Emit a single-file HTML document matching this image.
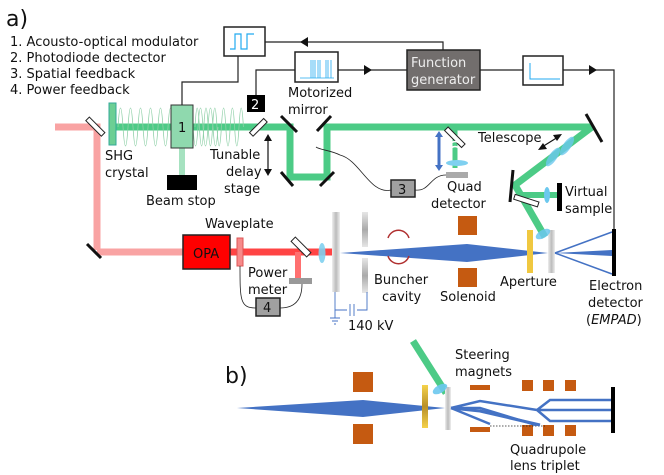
<!DOCTYPE html>
<html><head><meta charset="utf-8"><style>
html,body{margin:0;padding:0;background:#fff}
svg{display:block}
text{font-family:"DejaVu Sans","Liberation Sans",sans-serif;fill:#111}
</style></head><body>
<svg width="664" height="475" viewBox="0 0 664 475" xmlns="http://www.w3.org/2000/svg">
<defs>
<linearGradient id="gp" x1="0" x2="1"><stop offset="0" stop-color="#eee"/><stop offset="0.5" stop-color="#bbb"/><stop offset="1" stop-color="#eee"/></linearGradient>
<linearGradient id="gv" x1="0" y1="0" x2="0" y2="1"><stop offset="0" stop-color="#e6e6e6"/><stop offset="0.5" stop-color="#aaa"/><stop offset="1" stop-color="#e6e6e6"/></linearGradient>
<linearGradient id="gy" x1="0" y1="0" x2="0" y2="1"><stop offset="0" stop-color="#f5d24a"/><stop offset="0.5" stop-color="#b8902a"/><stop offset="1" stop-color="#f5d24a"/></linearGradient>
</defs>
<g font-size="13">
<text x="6" y="26" font-size="22">a)</text>
<text x="10" y="46">1. Acousto-optical modulator</text>
<text x="10" y="62">2. Photodiode dectector</text>
<text x="10" y="78">3. Spatial feedback</text>
<text x="10" y="94">4. Power feedback</text>

<!-- red beam -->
<path d="M55 127 H97 V250" stroke="#f9a3a3" stroke-width="7" fill="none"/>
<line x1="97" y1="252" x2="183" y2="252" stroke="#f9a3a3" stroke-width="7"/>
<line x1="87" y1="244" x2="101" y2="258" stroke="#111" stroke-width="3"/>
<line x1="230" y1="252" x2="333" y2="252" stroke="#ff4444" stroke-width="7"/>
<line x1="298" y1="252" x2="298" y2="280" stroke="#ff7070" stroke-width="6"/>
<rect x="183" y="235" width="47" height="34" fill="#f00" stroke="#222" stroke-width="1.5"/>
<text x="193" y="258">OPA</text>
<rect x="237" y="238" width="6" height="28" fill="#f78a8a" stroke="#d55" stroke-width="1"/>
<rect x="290" y="244" width="22" height="6" fill="#fff" stroke="#222" transform="rotate(45 301 247)"/>
<rect x="289" y="278" width="23" height="6" fill="#999"/>
<ellipse cx="322" cy="253" rx="3.5" ry="10" fill="#7fd0f0" opacity="0.9"/>

<!-- green beam -->
<path d="M116 127 H290 V177 H327 V127 H592" stroke="#4ccb86" stroke-width="7" fill="none"/>
<line x1="182" y1="148" x2="182" y2="175" stroke="#a6e2c0" stroke-width="6"/>
<path d="M592 127 L515 185 L545 237" stroke="#4ccb86" stroke-width="7" fill="none"/>
<line x1="516" y1="195" x2="558" y2="195" stroke="#4ccb86" stroke-width="6"/>
<line x1="455" y1="130" x2="455" y2="168" stroke="#4ccb86" stroke-width="5"/>
<!-- wavy -->
<path d="M118 127 q2.5 -38 5 0 t5 0 t5 0 t5 0 t5 0 t5 0 t5 0 t5 0 t5 0 t5 0 t5 0 t5 0 t5 0 t5 0 t5 0 t5 0 t5 0 t5 0 t5 0 t5 0" stroke="#8fd0a8" stroke-width="0.8" fill="none"/>
<path d="M195 127 q2.2 -38 4.4 0 t4.4 0 t4.4 0 t4.4 0 t4.4 0 t4.4 0 t4.4 0 t4.4 0 t4.4 0 t4.4 0 t4.4 0" stroke="#8fd0a8" stroke-width="0.8" fill="none"/>
<rect x="93" y="116" width="5" height="22" fill="#fff" stroke="#222" transform="rotate(-45 95 127)"/>
<rect x="109" y="103" width="7" height="42" fill="#6ccf94" stroke="#3a9" stroke-width="1"/>
<rect x="171" y="105" width="22" height="43" fill="#8fd9ae" stroke="#333" stroke-width="1"/>
<text x="178" y="132">1</text>
<rect x="167" y="175" width="30" height="15" fill="#000"/>
<text x="146" y="205">Beam stop</text>
<text x="105" y="160">SHG</text>
<text x="105" y="177">crystal</text>
<rect x="247" y="95" width="18" height="17" fill="#000"/>
<text x="251" y="109" style="fill:#fff">2</text>
<rect x="256" y="117" width="5" height="20" fill="#fff" stroke="#222" transform="rotate(45 258 127)"/>
<text x="210" y="159">Tunable</text>
<text x="226" y="176">delay</text>
<text x="224" y="193">stage</text>
<path d="M268 138 V172" stroke="#111" stroke-width="1.2"/>
<path d="M268 134 l-4 7 h8z M268 176 l-4 -7 h8z" fill="#111"/>
<g stroke="#111" stroke-width="3">
<line x1="281" y1="116" x2="297" y2="132"/>
<line x1="281" y1="172" x2="293" y2="186"/>
<line x1="317" y1="131" x2="331" y2="116"/>
<line x1="320" y1="186" x2="334" y2="172"/>
<line x1="586" y1="114" x2="602" y2="142"/>
<line x1="513" y1="170" x2="510" y2="202"/>
</g>
<!-- top boxes -->
<rect x="224" y="27" width="41" height="29" fill="#fff" stroke="#222" stroke-width="1.5"/>
<path d="M230 49 h5 v-15 h6 v15 h6 v-15 h7" stroke="#22aaf0" stroke-width="1.2" fill="none"/>
<path d="M238 56 V82 H182 V105" stroke="#222" stroke-width="1.2" fill="none"/>
<path d="M265 42 H443 V50" stroke="#222" stroke-width="1.2" fill="none"/>
<path d="M300 42 l8 -5 v10z" fill="#111"/>
<rect x="295" y="52" width="43" height="30" fill="#fff" stroke="#222" stroke-width="1.5"/>
<path d="M300 78 H334 M311 60 V78 M313 60 V78 M315 60 V78 M318 60 V78 M320 60 V78 M326 60 V78 M328 60 V78 M331 60 V78" stroke="#22aaf0" stroke-width="0.8"/>
<path d="M295 70 H256 V95" stroke="#222" stroke-width="1.2" fill="none"/>
<line x1="338" y1="70" x2="407" y2="70" stroke="#222" stroke-width="1.2"/>
<path d="M372 70 l-8 -5 v10z" fill="#111"/>
<text x="288" y="97">Motorized</text>
<text x="288" y="114">mirror</text>
<rect x="407" y="50" width="73" height="40" fill="#726e6d" stroke="#222" stroke-width="1.5"/>
<text x="411" y="67" style="fill:#eee">Function</text>
<text x="411" y="84" style="fill:#eee">generator</text>
<line x1="480" y1="70" x2="523" y2="70" stroke="#222" stroke-width="1.2"/>
<rect x="523" y="56" width="40" height="29" fill="#fff" stroke="#222" stroke-width="1.5"/>
<path d="M530 63 V79 H560" stroke="#22aaf0" stroke-width="1" fill="none"/>
<path d="M563 70 H614 V232" stroke="#222" stroke-width="1.2" fill="none"/>
<path d="M597 70 l-8 -5 v10z" fill="#111"/>
<!-- quad detector -->
<rect x="446" y="120" width="5" height="24" fill="#fff" stroke="#222" transform="rotate(-45 458 127)"/>
<ellipse cx="457" cy="163" rx="11" ry="3" fill="#7fd0f0"/>
<rect x="446" y="172" width="22" height="6" fill="#aaa"/>
<path d="M451 143 q4 -3 8 0 M451 148 q4 -3 8 0" stroke="#fff" stroke-width="1.5" fill="none"/>
<line x1="439" y1="136" x2="439" y2="166" stroke="#4472c4" stroke-width="3"/>
<path d="M439 131 l-4 6 h8z M439 171 l-4 -6 h8z" fill="#4472c4"/>
<text x="447" y="191">Quad</text>
<text x="431" y="208">detector</text>
<rect x="391" y="180" width="24" height="17" fill="#a0a0a0" stroke="#222" stroke-width="1.5"/>
<text x="398" y="194">3</text>
<path d="M391 190 C370 195 360 160 340 155 C330 150 320 150 316 147" stroke="#222" stroke-width="0.8" fill="none"/>
<path d="M415 190 C430 192 430 175 446 175" stroke="#222" stroke-width="0.8" fill="none"/>
<text x="478" y="142">Telescope</text>
<ellipse cx="553" cy="157" rx="4" ry="11" fill="#6cc8ee" opacity="0.8" transform="rotate(35 553 157)"/>
<ellipse cx="567" cy="146" rx="4" ry="11" fill="#6cc8ee" opacity="0.8" transform="rotate(35 567 146)"/>
<line x1="542" y1="147" x2="558" y2="137" stroke="#111" stroke-width="1.2"/>
<path d="M538 150 l9 -1 l-4 -6z M562 134 l-9 1 l4 6z" fill="#111"/>
<ellipse cx="547" cy="195" rx="3" ry="8" fill="#6cc8ee"/>
<rect x="557" y="183" width="5" height="28" fill="#000"/>
<text x="565" y="196">Virtual</text>
<text x="565" y="213">sample</text>
<rect x="514" y="198" width="25" height="5" fill="#fff" stroke="#222" transform="rotate(18 526 200)"/>

<!-- electron gun -->
<rect x="332" y="212" width="8" height="80" fill="url(#gp)"/>
<rect x="362" y="212" width="6" height="35" fill="url(#gv)"/>
<rect x="362" y="258" width="6" height="35" fill="url(#gv)"/>
<path d="M335 292 V310 H347 M350 304 V316 M354 304 V316 M357 310 H367 V292" stroke="#4472c4" stroke-width="0.9" fill="none"/>
<path d="M335 310 V318 M330 318 H340 M332 321 H338 M334 324 H336" stroke="#4472c4" stroke-width="0.9" fill="none"/>
<text x="348" y="330">140 kV</text>
<path d="M340 253 L467 244 L548 253 L467 262 Z" fill="#4472c4"/>
<path d="M388 238 A11 11 0 0 1 409 238 M388 256 A11 11 0 0 0 409 256" stroke="#b03030" stroke-width="1.5" fill="none"/>
<rect x="458" y="216" width="19" height="19" fill="#c55a11"/>
<rect x="458" y="268" width="19" height="19" fill="#c55a11"/>
<rect x="527" y="230" width="6" height="43" fill="#f0c840"/>
<rect x="548" y="230" width="7" height="43" fill="url(#gp)"/>
<ellipse cx="543" cy="234" rx="4" ry="8" fill="#6cc8ee" opacity="0.85" transform="rotate(60 543 234)"/>
<path d="M555 253 L612 232 M555 253 L612 274" stroke="#4472c4" stroke-width="1.5"/>
<path d="M555 253 L612 250 L612 256 Z" fill="#4472c4"/>
<rect x="612" y="229" width="4" height="47" fill="#000"/>
<text x="205" y="228">Waveplate</text>
<text x="248" y="277">Power</text>
<text x="248" y="294">meter</text>
<rect x="256" y="298" width="24" height="18" fill="#a0a0a0" stroke="#222" stroke-width="1.5"/>
<text x="263" y="312">4</text>
<path d="M240 266 C240 300 240 308 256 308 M280 308 C295 308 302 300 302 284" stroke="#222" stroke-width="0.8" fill="none"/>
<text x="374" y="284">Buncher</text>
<text x="382" y="301">cavity</text>
<text x="440" y="301">Solenoid</text>
<text x="500" y="286">Aperture</text>
<text x="589" y="290">Electron</text>
<text x="588" y="307">detector</text>
<text x="586" y="324">(<tspan font-style="italic">EMPAD</tspan>)</text>

<!-- b -->
<text x="225" y="383" font-size="22">b)</text>
<line x1="413" y1="341" x2="446" y2="393" stroke="#4ccb86" stroke-width="7"/>
<path d="M237 408 L363 400 L445 408 L363 417 Z" fill="#4472c4"/>
<rect x="353" y="372" width="20" height="20" fill="#c55a11"/>
<rect x="353" y="424" width="20" height="20" fill="#c55a11"/>
<rect x="422" y="385" width="6" height="43" fill="url(#gy)"/>
<rect x="445" y="387" width="6" height="43" fill="url(#gp)"/>
<ellipse cx="440" cy="389" rx="4" ry="8" fill="#6cc8ee" opacity="0.9" transform="rotate(60 440 389)"/>
<text x="455" y="359">Steering</text>
<text x="455" y="376">magnets</text>
<rect x="470" y="385" width="20" height="5" fill="#c55a11"/>
<rect x="470" y="427" width="20" height="5" fill="#c55a11"/>
<g fill="#c55a11">
<rect x="522" y="380" width="11" height="11"/><rect x="543" y="380" width="11" height="11"/><rect x="565" y="380" width="11" height="11"/>
<rect x="522" y="425" width="11" height="11"/><rect x="543" y="425" width="11" height="11"/><rect x="565" y="425" width="11" height="11"/>
</g>
<line x1="490" y1="426" x2="545" y2="426" stroke="#222" stroke-width="0.8" stroke-dasharray="1.5,1.5"/>
<g stroke="#4472c4" fill="none">
<path d="M451 408 L480 401 L537 410 M451 408 L480 408 L536 425 M451 408 L490 424 M537 410 L550 400 H611 M537 410 H611 M537 410 L550 421 H611" stroke-width="2.5"/>
<path d="M451 408 L480 411 L540 425" stroke-width="3"/>
</g>
<rect x="611" y="387" width="4" height="46" fill="#000"/>
<text x="510" y="454">Quadrupole</text>
<text x="510" y="470">lens triplet</text>
</g>
</svg>
</body></html>
